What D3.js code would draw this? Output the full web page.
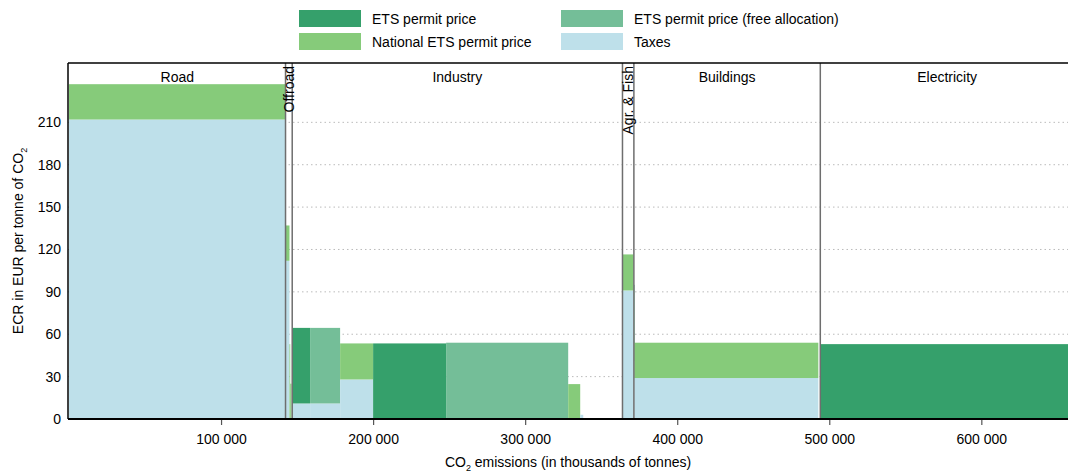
<!DOCTYPE html>
<html>
<head>
<meta charset="utf-8">
<script src="https://cdn.jsdelivr.net/npm/d3@7"></script>
<style>
  body { margin: 0; background: #fff; }
  svg text { font-family: "Liberation Sans", Arial, sans-serif; }
</style>
</head>
<body>
<div id="ecr_chart"></div>
<script>
// sectors (name + edges in thousand tonnes CO2)
var sectorNames = ["Road", "Offroad", "Industry", "Agr. & Fish", "Buildings", "Electricity"];
var sectorStart = [0, 142400, 146800, 364000, 371500, 494100];
var sectorEnd   = [142400, 146800, 364000, 371500, 494100, 661000];
var sectorVertical = [false, true, false, true, false, false];

// bars: emission ranges and rate components (EUR / t CO2)
var barStart = [0, 142500, 145000, 145500, 146900, 158550, 178300, 200000, 248000, 328300, 336200, 364300, 371600, 371700, 494400];
var barEnd   = [142200, 145000, 145500, 146300, 158550, 178300, 200000, 248000, 328300, 336200, 338200, 371300, 371900, 492800, 661000];
var taxes    = [212, 112, 0, 0, 11, 11, 28, 0, 0, 0, 3, 91, 41, 29, 0];
var etsPrice = [0, 0, 0, 0, 53.5, 0, 0, 53.5, 0, 0, 0, 0, 54, 0, 53];
var etsFree  = [0, 0, 0, 0, 0, 53.5, 0, 0, 54, 0, 0, 0, 0, 0, 0];
var natEts   = [25, 25, 53, 25, 0, 0, 25.5, 0, 0, 24.7, 0, 25.5, 0, 25, 0];

var xTicks = [100000, 200000, 300000, 400000, 500000, 600000];
var yTicks = [0, 30, 60, 90, 120, 150, 180, 210];

var legendNames  = ["ETS permit price", "ETS permit price (free allocation)", "National ETS permit price", "Taxes"];
var legendColors = ["#35a06b", "#74be98", "#86cb7a", "#bee0ea"];

var svg, x, y;

function ecrChart() {
    var W = 1068, H = 474;
    var left = 68, right = 1068, top = 63, bottom = 419;

    svg = d3.select("#ecr_chart")
    .append("svg")
        .attr("width", W)
        .attr("height", H);

    x = d3.scaleLinear().domain([0, 657000]).range([69, 1068]);
    y = d3.scaleLinear().domain([0, 252]).range([bottom, top]);

    // dotted grid
    svg.append("g").selectAll("line")
        .data(yTicks.filter(function(v) { return v > 0; }))
        .enter().append("line")
        .attr("x1", left).attr("x2", right)
        .attr("y1", function(v) { return y(v); })
        .attr("y2", function(v) { return y(v); })
        .attr("stroke", "#bbb")
        .attr("stroke-width", 1)
        .attr("stroke-dasharray", "1.5,3");

    // stacked bars
    svg.append("clipPath").attr("id", "plotclip")
        .append("rect").attr("x", left).attr("y", top)
        .attr("width", right - left).attr("height", bottom - top);

    var bars = svg.append("g").attr("clip-path", "url(#plotclip)");
    var comps = [taxes, etsPrice, etsFree, natEts];
    var compColor = ["#bee0ea", "#35a06b", "#74be98", "#86cb7a"];

    barStart.forEach(function(s, i) {
        var base = 0;
        comps.forEach(function(c, k) {
            var v = c[i];
            if (v > 0) {
                bars.append("rect")
                    .attr("x", x(s))
                    .attr("width", x(barEnd[i]) - x(s))
                    .attr("y", y(base + v))
                    .attr("height", y(base) - y(base + v))
                    .attr("fill", compColor[k]);
            }
            base += v;
        });
    });

    // sector separators
    var sep = svg.append("g");
    sectorStart.slice(1).forEach(function(s) {
        sep.append("line")
            .attr("x1", x(s)).attr("x2", x(s))
            .attr("y1", top).attr("y2", bottom)
            .attr("stroke", "#6e6e6e")
            .attr("stroke-width", 1.5);
    });

    // sector labels
    sectorNames.forEach(function(n, i) {
        var a = Math.max(x(sectorStart[i]), left), b = Math.min(x(sectorEnd[i]), right);
        var cx = (a + b) / 2;
        if (sectorVertical[i]) {
            svg.append("text")
                .attr("transform", "translate(" + cx + ",66) rotate(-90)")
                .attr("text-anchor", "end")
                .attr("dy", "0.35em")
                .style("font-size", "14px")
                .text(n);
        } else {
            svg.append("text")
                .attr("x", cx + (i === 5 ? 3 : 0))
                .attr("y", 82)
                .attr("text-anchor", "middle")
                .style("font-size", "14px")
                .text(n);
        }
    });

    // axes
    var fmt = function(v) { return d3.format(",")(v).replace(/,/g, " "); };
    var xAxis = svg.append("g")
        .attr("transform", "translate(0," + bottom + ")")
        .call(d3.axisBottom(x).tickValues(xTicks).tickFormat(fmt).tickSize(6).tickSizeOuter(0));
    xAxis.select(".domain").remove();
    xAxis.selectAll(".tick line").attr("stroke", "#555").attr("stroke-width", 1.2);
    xAxis.selectAll("text").style("font-size", "14px").attr("fill", "#000").attr("y", 15);

    var yAxis = svg.append("g")
        .attr("transform", "translate(" + left + ",0)")
        .call(d3.axisLeft(y).tickValues(yTicks).tickSize(0).tickPadding(7));
    yAxis.select(".domain").remove();
    yAxis.selectAll("text").style("font-size", "14px").attr("fill", "#000");

    // frame
    svg.append("line").attr("x1", left).attr("x2", right).attr("y1", top).attr("y2", top)
        .attr("stroke", "#000").attr("stroke-width", 1.5);
    svg.append("line").attr("x1", left).attr("x2", left).attr("y1", top).attr("y2", bottom)
        .attr("stroke", "#000").attr("stroke-width", 1.5);
    svg.append("line").attr("x1", left).attr("x2", right).attr("y1", bottom).attr("y2", bottom)
        .attr("stroke", "#000").attr("stroke-width", 2);

    // axis titles
    var xl = svg.append("text")
        .attr("x", (left + right) / 2)
        .attr("y", 467)
        .attr("text-anchor", "middle")
        .style("font-size", "14px");
    xl.append("tspan").text("CO");
    xl.append("tspan").attr("dy", 4).style("font-size", "9px").text("2");
    xl.append("tspan").attr("dy", -4).text(" emissions (in thousands of tonnes)");

    var yl = svg.append("text")
        .attr("transform", "translate(23," + (top + bottom) / 2 + ") rotate(-90)")
        .attr("text-anchor", "middle")
        .style("font-size", "14px");
    yl.append("tspan").text("ECR in EUR per tonne of CO");
    yl.append("tspan").attr("dy", 4).style("font-size", "9px").text("2");

    // legend
    var lg = svg.append("g");
    legendNames.forEach(function(n, i) {
        var col = i % 2, row = Math.floor(i / 2);
        var lx = col === 0 ? 299 : 561, ly = 10 + row * 23;
        lg.append("rect").attr("x", lx).attr("y", ly).attr("width", 62).attr("height", 17)
            .attr("fill", legendColors[i]);
        lg.append("text").attr("x", lx + 73).attr("y", ly + 14)
            .style("font-size", "14px").text(n);
    });
}

function init() {
    ecrChart();
}

window.onload = init;
</script>
</body>
</html>
